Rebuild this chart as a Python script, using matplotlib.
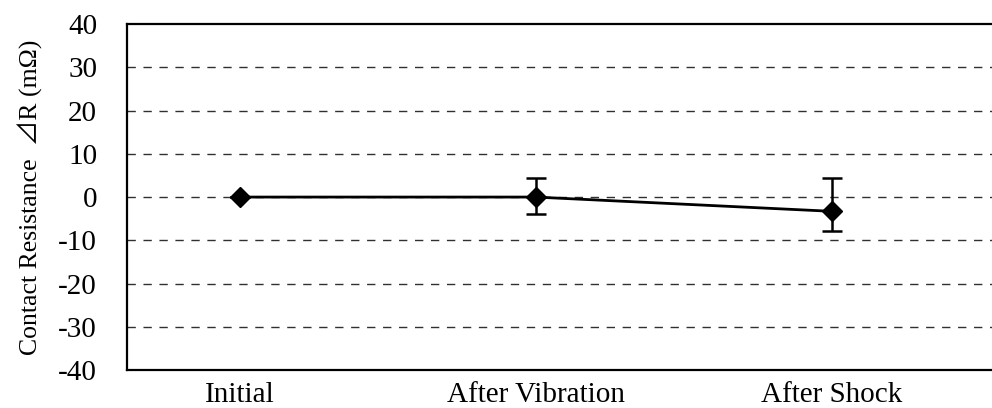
import matplotlib
matplotlib.use("Agg")
import matplotlib.pyplot as plt

# data
stages = ["Initial", "After Vibration", "After Shock"]
delta_r = [0.0, 0.0, -3.3]
err_low = [0.0, 4.0, 4.6]
err_high = [0.0, 4.4, 7.7]
y_ticks = [-40, -30, -20, -10, 0, 10, 20, 30, 40]

plt.rcParams['font.family'] = ['Liberation Serif', 'Noto Sans CJK JP', 'DejaVu Sans']
plt.rcParams['axes.unicode_minus'] = False

fig = plt.figure(figsize=(9.92, 4.08), dpi=100)
ax = fig.add_axes([0.128, 0.093, 0.872, 0.848])

x = list(range(len(stages)))
ax.errorbar(x, delta_r, yerr=[err_low, err_high],
            color='black', linewidth=2, marker='D', markersize=10.5,
            ecolor='black', elinewidth=1.8, capsize=7, capthick=1.8,
            zorder=3)

ax.set_xlim(-0.38, 2.54)
ax.set_ylim(-40, 40)
ax.set_yticks(y_ticks)
ax.set_xticks(x)
ax.set_xticklabels(stages)
ax.tick_params(axis='x', length=0, labelsize=21, pad=8.5)
ax.tick_params(axis='y', length=0, labelsize=21, pad=21.5)

# dashed grid lines
for y in y_ticks[1:-1]:
    ax.axhline(y, color='#303030', linewidth=1.0, linestyle=(0, (6, 5.5)), zorder=1)

ax.spines['right'].set_visible(False)
for s in ['left', 'bottom', 'top']:
    ax.spines[s].set_linewidth(1.6)

ax.set_ylabel("Contact Resistance  ⊿R (mΩ)", fontsize=18.5)
ax.yaxis.set_label_coords(-0.097, 0.5)

fig.savefig("out.png", dpi=100)
